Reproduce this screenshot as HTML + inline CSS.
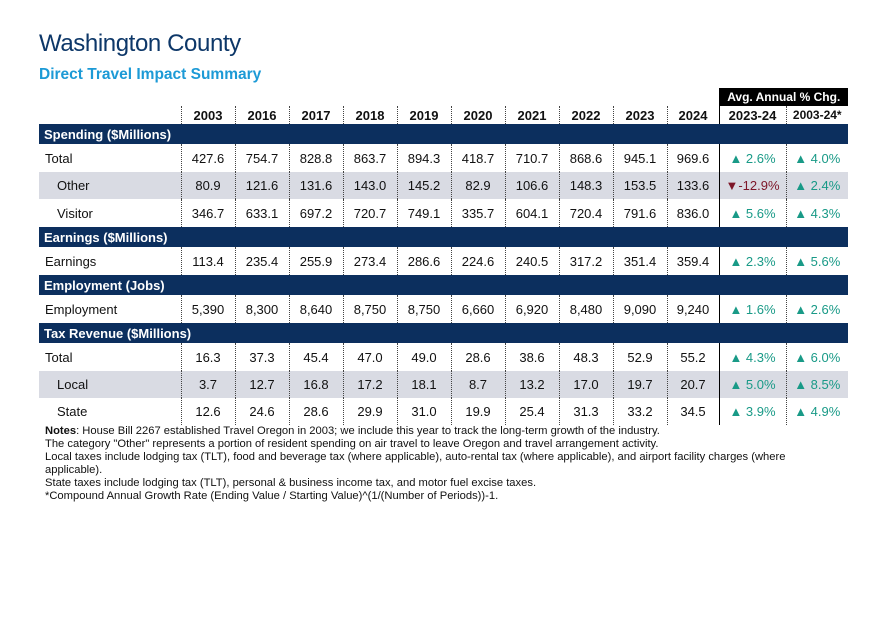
<!DOCTYPE html>
<html><head><meta charset="utf-8">
<style>
body{margin:0;width:888px;height:642px;background:#fff;font-family:"Liberation Sans",Arial,sans-serif;position:relative;overflow:hidden}
#title{position:absolute;left:39px;top:30px;font-size:24px;color:#0d3768;letter-spacing:-0.4px}
#sub{position:absolute;left:39px;top:66px;font-size:15.5px;font-weight:bold;color:#1c9ad6}
table{position:absolute;left:39px;top:88px;border-collapse:collapse;table-layout:fixed;font-size:13px;color:#111}
td{padding:0;text-align:center;white-space:nowrap;overflow:visible}
td.d{border-left:1px dotted #444}
td.s{border-left:1px solid #000}
td.l{text-align:left;padding-left:6px}
td.l2{text-align:left;padding-left:18px}
tr.band td{background:#0c2f5e;color:#fff;font-weight:bold;height:20px}
tr.band td.l{padding-left:5px}
tr.hdr td{font-weight:bold;height:18px}
tr.gray td{background:#d9dbe3}
.up{color:#199a87}.dn{color:#7d1628}
#notes{position:absolute;left:45px;top:425px;font-size:11.2px;line-height:13px;color:#111;width:750px}
</style></head><body>
<div id="title">Washington County</div>
<div id="sub">Direct Travel Impact Summary</div>
<table>
<colgroup><col style="width:142px"><col style="width:54px"><col style="width:54px"><col style="width:54px"><col style="width:54px"><col style="width:54px"><col style="width:54px"><col style="width:54px"><col style="width:54px"><col style="width:54px"><col style="width:52px"><col style="width:67px"><col style="width:62px"></colgroup>
<tr style="height:18px"><td colspan="11"></td><td colspan="2" class="s" style="background:#000;color:#fff;font-weight:bold;font-size:12px">Avg. Annual % Chg.</td></tr>
<tr class="hdr"><td></td><td class="d">2003</td><td class="d">2016</td><td class="d">2017</td><td class="d">2018</td><td class="d">2019</td><td class="d">2020</td><td class="d">2021</td><td class="d">2022</td><td class="d">2023</td><td class="d">2024</td><td class="s">2023-24</td><td class="d" style="font-size:12px">2003-24*</td></tr>
<tr class="band"><td class="l" colspan="13">Spending ($Millions)</td></tr>
<tr style="height:28px"><td class="l">Total</td><td class="d">427.6</td><td class="d">754.7</td><td class="d">828.8</td><td class="d">863.7</td><td class="d">894.3</td><td class="d">418.7</td><td class="d">710.7</td><td class="d">868.6</td><td class="d">945.1</td><td class="d">969.6</td><td class="s up">▲ 2.6%</td><td class="d up">▲ 4.0%</td></tr>
<tr class="gray" style="height:27px"><td class="l2">Other</td><td class="d">80.9</td><td class="d">121.6</td><td class="d">131.6</td><td class="d">143.0</td><td class="d">145.2</td><td class="d">82.9</td><td class="d">106.6</td><td class="d">148.3</td><td class="d">153.5</td><td class="d">133.6</td><td class="s dn">▼-12.9%</td><td class="d up">▲ 2.4%</td></tr>
<tr style="height:28px"><td class="l2">Visitor</td><td class="d">346.7</td><td class="d">633.1</td><td class="d">697.2</td><td class="d">720.7</td><td class="d">749.1</td><td class="d">335.7</td><td class="d">604.1</td><td class="d">720.4</td><td class="d">791.6</td><td class="d">836.0</td><td class="s up">▲ 5.6%</td><td class="d up">▲ 4.3%</td></tr>
<tr class="band"><td class="l" colspan="13">Earnings ($Millions)</td></tr>
<tr style="height:28px"><td class="l">Earnings</td><td class="d">113.4</td><td class="d">235.4</td><td class="d">255.9</td><td class="d">273.4</td><td class="d">286.6</td><td class="d">224.6</td><td class="d">240.5</td><td class="d">317.2</td><td class="d">351.4</td><td class="d">359.4</td><td class="s up">▲ 2.3%</td><td class="d up">▲ 5.6%</td></tr>
<tr class="band"><td class="l" colspan="13">Employment (Jobs)</td></tr>
<tr style="height:28px"><td class="l">Employment</td><td class="d">5,390</td><td class="d">8,300</td><td class="d">8,640</td><td class="d">8,750</td><td class="d">8,750</td><td class="d">6,660</td><td class="d">6,920</td><td class="d">8,480</td><td class="d">9,090</td><td class="d">9,240</td><td class="s up">▲ 1.6%</td><td class="d up">▲ 2.6%</td></tr>
<tr class="band"><td class="l" colspan="13">Tax Revenue ($Millions)</td></tr>
<tr style="height:28px"><td class="l">Total</td><td class="d">16.3</td><td class="d">37.3</td><td class="d">45.4</td><td class="d">47.0</td><td class="d">49.0</td><td class="d">28.6</td><td class="d">38.6</td><td class="d">48.3</td><td class="d">52.9</td><td class="d">55.2</td><td class="s up">▲ 4.3%</td><td class="d up">▲ 6.0%</td></tr>
<tr class="gray" style="height:27px"><td class="l2">Local</td><td class="d">3.7</td><td class="d">12.7</td><td class="d">16.8</td><td class="d">17.2</td><td class="d">18.1</td><td class="d">8.7</td><td class="d">13.2</td><td class="d">17.0</td><td class="d">19.7</td><td class="d">20.7</td><td class="s up">▲ 5.0%</td><td class="d up">▲ 8.5%</td></tr>
<tr style="height:27px"><td class="l2">State</td><td class="d">12.6</td><td class="d">24.6</td><td class="d">28.6</td><td class="d">29.9</td><td class="d">31.0</td><td class="d">19.9</td><td class="d">25.4</td><td class="d">31.3</td><td class="d">33.2</td><td class="d">34.5</td><td class="s up">▲ 3.9%</td><td class="d up">▲ 4.9%</td></tr>
</table>
<div id="notes"><b>Notes</b>: House Bill 2267 established Travel Oregon in 2003; we include this year to track the long-term growth of the industry.<br>The category "Other" represents a portion of resident spending on air travel to leave Oregon and travel arrangement activity.<br>Local taxes include lodging tax (TLT), food and beverage tax (where applicable), auto-rental tax (where applicable), and airport facility charges (where applicable).<br>State taxes include lodging tax (TLT), personal &amp; business income tax, and motor fuel excise taxes.<br>*Compound Annual Growth Rate (Ending Value / Starting Value)^(1/(Number of Periods))-1.</div>
</body></html>
